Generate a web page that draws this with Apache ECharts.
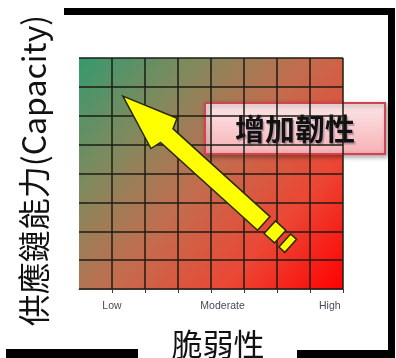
<!DOCTYPE html>
<html>
<head>
<meta charset="utf-8">
<script src="https://cdn.jsdelivr.net/npm/echarts@6/dist/echarts.min.js"></script>
<style>
html,body{margin:0;padding:0;background:#fff;}
#main{width:396px;height:358px;}
</style>
</head>
<body>
<div id="main"></div>
<script>
// 軸的刻度與標籤
var xTickValues = [1, 2, 3, 4, 5, 6, 7, 8];
var xLabelValues = [1, 4.35, 7.6];
var xLabels = ['Low', 'Moderate', 'High'];
// 箭頭 (資料座標): 尖端與尾端
var arrowTip = [1.33, 6.68];
var arrowTail = [6.38, 1.45];
var calloutText = '增加韌性';
var xName = '脆弱性';
var yName = '供應鏈能力(Capacity)';

var cjk = '"Noto Sans CJK TC", "Noto Sans CJK SC", sans-serif';
var myChart = echarts.init(document.getElementById('main'));

function renderArrow(params, api) {
	var tip = api.coord([api.value(0), api.value(1)]);
	var tail = api.coord([api.value(2), api.value(3)]);
	var dx = tail[0] - tip[0], dy = tail[1] - tip[1];
	var L = Math.sqrt(dx * dx + dy * dy);
	var d = [dx / L, dy / L], n = [d[1], -d[0]];
	var k = L / 225;
	function pt(s, t) {
		return [tip[0] + d[0] * s * k + n[0] * t, tip[1] + d[1] * s * k + n[1] * t];
	}
	var st = {fill: '#ffff00', stroke: '#2a2a10', lineWidth: 1.5};
	return {
		type: 'group',
		children: [{
			type: 'polygon',
			shape: {points: [pt(0, 0), pt(55, 20), pt(59, 9.5), pt(190, 9.5), pt(190, -9), pt(59, -9), pt(56, -20)]},
			style: st
		}, {
			type: 'polygon',
			shape: {points: [pt(197, 10), pt(211, 10), pt(211, -7), pt(197, -7)]},
			style: st
		}, {
			type: 'polygon',
			shape: {points: [pt(217, 10.5), pt(225, 10.5), pt(225, -7), pt(217, -7)]},
			style: st
		}]
	};
}

var option = {
	animation: false,
	backgroundColor: '#fff',
	grid: {
		left: 79, top: 58, width: 264, height: 231,
		outerBoundsMode: 'none',
		containLabel: false,
		show: true,
		borderWidth: 0,
		backgroundColor: new echarts.graphic.LinearGradient(0, 0, 1, 1, [
			{offset: 0, color: '#36996e'},
			{offset: 0.25, color: '#7f8a5e'},
			{offset: 0.5, color: '#c46c4e'},
			{offset: 0.75, color: '#ec4634'},
			{offset: 1, color: '#ff0000'}
		])
	},
	xAxis: {
		type: 'value', min: 0, max: 8, interval: 1,
		name: xName,
		nameLocation: 'middle',
		nameGap: 40,
		nameMoveOverlap: false,
		nameTextStyle: {fontFamily: cjk, fontSize: 31, color: '#111', padding: [0, 0, 0, 14]},
		axisLine: {show: true, lineStyle: {color: '#3a3a3a', width: 1}},
		axisTick: {show: true, length: 4, customValues: xTickValues, lineStyle: {color: '#3a3a3a'}},
		axisLabel: {
			customValues: xLabelValues,
			margin: 12,
			fontFamily: '"Liberation Sans", Arial, sans-serif',
			fontSize: 10.5,
			color: '#4a4a58',
			formatter: function (v) {
				var i = xLabelValues.indexOf(v);
				return i >= 0 ? xLabels[i] : '';
			}
		},
		splitLine: {show: true, lineStyle: {color: '#1c1c14', width: 1.5}}
	},
	yAxis: {
		type: 'value', min: 0, max: 8, interval: 1,
		name: yName,
		nameLocation: 'middle',
		nameRotate: 90,
		nameGap: 29,
		nameMoveOverlap: false,
		nameTextStyle: {fontFamily: cjk, fontSize: 32, color: '#111', padding: [0, 0, 0, 6]},
		axisLine: {show: false},
		axisTick: {show: false},
		axisLabel: {show: false},
		splitLine: {show: true, lineStyle: {color: '#1c1c14', width: 1.5}}
	},
	series: [{
		type: 'custom',
		silent: true,
		renderItem: renderArrow,
		encode: {x: [0, 2], y: [1, 3]},
		data: [arrowTip.concat(arrowTail)],
		z: 5
	}],
	graphic: [
		// 黑色外框
		{type: 'rect', shape: {x: 64, y: 8, width: 331, height: 7}, style: {fill: '#000'}, z: 10},
		{type: 'rect', shape: {x: 388, y: 8, width: 7, height: 350}, style: {fill: '#000'}, z: 10},
		{type: 'rect', shape: {x: 297, y: 350, width: 98, height: 8}, style: {fill: '#000'}, z: 10},
		{type: 'rect', shape: {x: 6, y: 349, width: 132, height: 9}, style: {fill: '#000'}, z: 10},
		// 標註框
		{
			type: 'group', z: 20,
			children: [{
				type: 'rect',
				shape: {x: 205, y: 103, width: 180, height: 51},
				style: {
					fill: new echarts.graphic.LinearGradient(0, 0, 0, 1, [
						{offset: 0, color: '#fde8ea'},
						{offset: 1, color: '#f7b0b4'}
					]),
					stroke: '#d0434f',
					lineWidth: 2,
					shadowBlur: 5,
					shadowColor: 'rgba(0,0,0,0.35)',
					shadowOffsetX: 2,
					shadowOffsetY: 2
				}
			}, {
				type: 'text',
				x: 295, y: 129,
				style: {
					text: calloutText,
					font: 'bold 30px ' + cjk,
					fill: '#111',
					align: 'center',
					verticalAlign: 'middle',
					textShadowColor: 'rgba(70,70,100,0.4)',
					textShadowBlur: 1,
					textShadowOffsetX: 1.5,
					textShadowOffsetY: 1.5
				}
			}]
		}
	]
};
myChart.setOption(option);
</script>
</body>
</html>
